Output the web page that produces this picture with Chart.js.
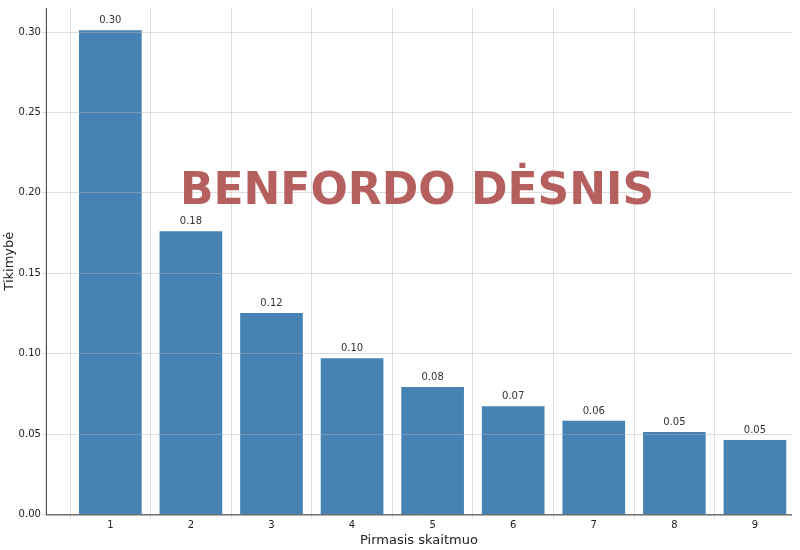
<!DOCTYPE html>
<html>
<head>
<meta charset="utf-8">
<script src="https://cdn.jsdelivr.net/npm/chart.js@4"></script>
<style>
  body { margin: 0; background: #fff; }
  #wrap { width: 800px; height: 550px; }
</style>
</head>
<body>
<div id="wrap"><canvas id="benford"></canvas></div>
<script>
const digits = [1, 2, 3, 4, 5, 6, 7, 8, 9];
const probabilities = [0.301, 0.176, 0.125, 0.097, 0.079, 0.067, 0.058, 0.051, 0.046];
const valueLabels = ["0.30", "0.18", "0.12", "0.10", "0.08", "0.07", "0.06", "0.05", "0.05"];
const yTicks = [0, 0.05, 0.1, 0.15, 0.2, 0.25, 0.3];

// axis lines, labels above bars, big title in the middle
const overlay = {
  id: "overlay",
  afterDraw(chart) {
    const c = chart.ctx;
    const a = chart.chartArea;
    const meta = chart.getDatasetMeta(0);
    c.save();
    c.strokeStyle = "#333";
    c.lineWidth = 1;
    c.beginPath();
    c.moveTo(a.left + 0.5, a.top);
    c.lineTo(a.left + 0.5, a.bottom + 0.5);
    c.lineTo(a.right, a.bottom + 0.5);
    c.stroke();
    c.fillStyle = "#333";
    c.font = "10px 'DejaVu Sans'";
    c.textAlign = "center";
    c.textBaseline = "bottom";
    meta.data.forEach((bar, i) => c.fillText(valueLabels[i], bar.x, bar.y - 5));
    c.fillStyle = "#b5605f";
    c.font = "bold 44px 'DejaVu Sans'";
    c.textBaseline = "middle";
    c.fillText("BENFORDO DĖSNIS", 417, chart.scales.y.getPixelForValue(0.2));
    c.restore();
  },
};

new Chart(document.getElementById("benford"), {
  type: "bar",
  data: {
    datasets: [{
      data: digits.map((d, i) => ({ x: d, y: probabilities[i] })),
      backgroundColor: "#4682b4",
      barThickness: 62,
    }],
  },
  options: {
    responsive: true,
    maintainAspectRatio: false,
    animation: false,
    layout: { padding: { top: 8, right: 8, left: 0, bottom: 0 } },
    plugins: { legend: { display: false }, tooltip: { enabled: false } },
    scales: {
      x: {
        type: "linear",
        min: 0.2,
        max: 9.46,
        offset: false,
        afterBuildTicks: (s) => { s.ticks = digits.map((v) => ({ value: v })); },
        grid: { color: "rgba(180,180,180,0.45)", z: 1, tickLength: 4 },
        border: { display: false },
        ticks: { color: "#222", padding: 1, font: { size: 10, family: "DejaVu Sans" } },
        title: { display: true, text: "Pirmasis skaitmuo", color: "#222", font: { size: 13, family: "DejaVu Sans" }, padding: { top: 0, bottom: 2 } },
      },
      y: {
        min: 0,
        max: 0.315,
        afterBuildTicks: (s) => { s.ticks = yTicks.map((v) => ({ value: v })); },
        grid: { color: "rgba(180,180,180,0.45)", z: 1, tickLength: 4 },
        border: { display: false },
        ticks: {
          color: "#222",
          padding: 1,
          font: { size: 10, family: "DejaVu Sans" },
          callback: (v) => v.toFixed(2),
        },
        title: { display: true, text: "Tikimybė", color: "#222", font: { size: 13, family: "DejaVu Sans" }, padding: { top: 2, bottom: 0 } },
      },
    },
  },
  plugins: [overlay],
});
</script>
</body>
</html>
